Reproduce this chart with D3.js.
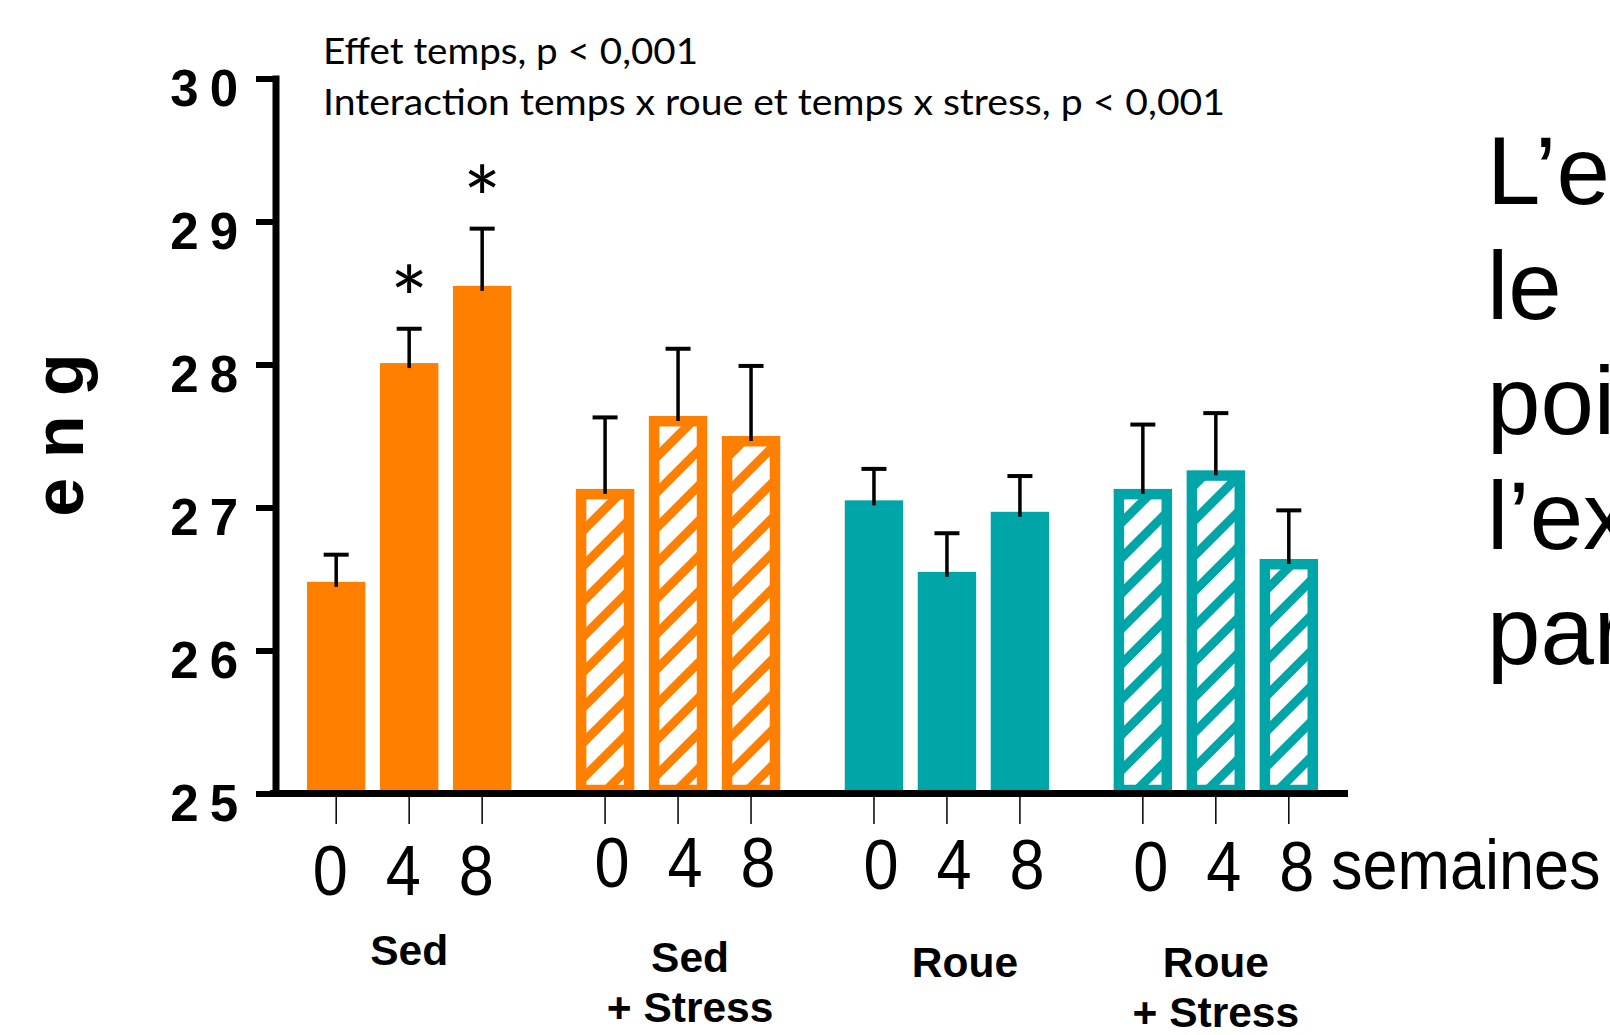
<!DOCTYPE html>
<html>
<head>
<meta charset="utf-8">
<script src="https://cdnjs.cloudflare.com/ajax/libs/d3/7.8.5/d3.min.js"></script>
<title>Poids en g</title>
<style>
  body{ margin:0; background:#fff; overflow:hidden; }
  svg{ display:block; }
  text{ font-family:"Liberation Sans", Arial, sans-serif; fill:#000; }
</style>
</head>
<body>
<script>
// data
var groups   = ["Sed", "Sed + Stress", "Roue", "Roue + Stress"],
    groupLbl = [["Sed"], ["Sed", "+ Stress"], ["Roue"], ["Roue", "+ Stress"]],
    weeks    = ["0", "4", "8"],
    hatched  = [false, true, false, true],
    colors   = ["#ff8000", "#ff8000", "#00a5a8", "#00a5a8"];

var means = [
  [26.48, 28.01, 28.55],
  [27.13, 27.64, 27.50],
  [27.05, 26.55, 26.97],
  [27.13, 27.26, 26.64]
];
var sems = [
  [0.19, 0.24, 0.40],
  [0.50, 0.47, 0.49],
  [0.22, 0.27, 0.25],
  [0.45, 0.40, 0.34]
];
var stars = [
  ["", "*", "*"],
  ["", "", ""],
  ["", "", ""],
  ["", "", ""]
];
var yTicks  = [25, 26, 27, 28, 29, 30],
    unit    = "semaines",
    yLabel  = "e n g",
    notes   = ["Effet temps, p < 0,001", "Interaction temps x roue et temps x stress, p < 0,001"],
    side    = ["L\u2019e", "le", "poi", "l\u2019ex", "par"];

// layout
var W = 1610, H = 1035,
    axisX = 276, border = 10.5,
    lblShift = [-6, 7, 7, 8],        // small per-group shift of the week numbers
    lblBase  = [895, 887, 889, 891],
    grpShift = [0, 12, 18, 0],
    grpBase  = [965, 972, 977, 977];

var rows = [];
groups.forEach(function(g, i){
  weeks.forEach(function(w, j){
    rows.push({g: g, gi: i, w: w, mean: means[i][j], sem: sems[i][j], star: stars[i][j]});
  });
});

var svg = d3.select("body").append("svg")
    .attr("width", W)
    .attr("height", H);

var y  = d3.scaleLinear().domain([25, 30]).range([793.5, 78.5]),
    x0 = d3.scaleBand().domain(groups).range([307, 1318]).paddingInner(0.24),
    x1 = d3.scaleBand().domain(weeks).range([0, x0.bandwidth()]).paddingInner(0.2);

function cx(d){ return x0(d.g) + x1(d.w) + x1.bandwidth()/2; }

// hatch patterns
var defs = svg.append("defs");
["#ff8000", "#00a5a8"].forEach(function(c, i){
  var p = defs.append("pattern")
      .attr("id", "hatch" + i)
      .attr("patternUnits", "userSpaceOnUse")
      .attr("width", 25).attr("height", 25)
      .attr("patternTransform", "rotate(45)");
  p.append("rect").attr("width", 25).attr("height", 25).attr("fill", "#fff");
  p.append("rect").attr("x", 8).attr("width", 9).attr("height", 25).attr("fill", c);
});

// bars
svg.append("g").selectAll("rect")
  .data(rows)
  .enter().append("rect")
    .attr("x", function(d){ return x0(d.g) + x1(d.w) + (hatched[d.gi] ? border/2 : 0); })
    .attr("y", function(d){ return y(d.mean) + (hatched[d.gi] ? border/2 : 0); })
    .attr("width", function(d){ return x1.bandwidth() - (hatched[d.gi] ? border : 0); })
    .attr("height", function(d){ return y(25) - 3.5 - y(d.mean) - (hatched[d.gi] ? border/2 : 0); })
    .attr("fill", function(d){ return hatched[d.gi] ? "url(#hatch" + (d.gi == 1 ? 0 : 1) + ")" : colors[d.gi]; })
    .attr("stroke", function(d){ return hatched[d.gi] ? colors[d.gi] : "none"; })
    .attr("stroke-width", border);

// error bars
var eb = svg.append("g").selectAll("g")
  .data(rows)
  .enter().append("g");
eb.append("line")
    .attr("x1", cx).attr("x2", cx)
    .attr("y1", function(d){ return y(d.mean) + 5; })
    .attr("y2", function(d){ return y(d.mean + d.sem); })
    .attr("stroke", "#000").attr("stroke-width", 3.5);
eb.append("line")
    .attr("x1", function(d){ return cx(d) - 12.5; })
    .attr("x2", function(d){ return cx(d) + 12.5; })
    .attr("y1", function(d){ return y(d.mean + d.sem); })
    .attr("y2", function(d){ return y(d.mean + d.sem); })
    .attr("stroke", "#000").attr("stroke-width", 4);

// stars
svg.append("g").selectAll("text")
  .data(rows.filter(function(d){ return d.star; }))
  .enter().append("text")
    .attr("x", cx)
    .attr("y", function(d){ return y(d.mean + d.sem) - 50 + 53; })
    .attr("text-anchor", "middle")
    .style("font-family", "Lato, sans-serif")
    .style("font-size", "90px")
    .text(function(d){ return d.star; });

// y axis
var ya = svg.append("g")
    .attr("transform", "translate(" + axisX + ",0)")
    .call(d3.axisLeft(y).tickValues(yTicks).tickFormat(d3.format("d")).tickSize(20).tickSizeOuter(0));
ya.select(".domain").attr("stroke-width", 7).attr("d", "M0," + (y(30) - 3) + "V" + (y(25) + 3));
ya.selectAll(".tick line").attr("stroke-width", 6);
ya.selectAll(".tick text")
    .attr("x", -27)
    .attr("dy", "0.52em")
    .style("font-family", "'Liberation Sans', Arial, sans-serif")
    .style("font-size", "51px")
    .style("font-weight", "bold")
    .style("letter-spacing", "11px");

// x axis base line
svg.append("line")
    .attr("x1", 270).attr("x2", 1348)
    .attr("y1", y(25)).attr("y2", y(25))
    .attr("stroke", "#000").attr("stroke-width", 7);

// x ticks per group
groups.forEach(function(g, i){
  var xa = svg.append("g")
      .attr("transform", "translate(" + x0(g) + "," + (y(25) + 3.5) + ")")
      .call(d3.axisBottom(x1).tickSize(27).tickSizeOuter(0).tickFormat(""));
  xa.select(".domain").remove();
  xa.selectAll(".tick line").attr("stroke-width", 1.5);

  svg.append("g").selectAll("text")
    .data(weeks)
    .enter().append("text")
      .attr("transform", function(w){
        return "translate(" + (x0(g) + x1(w) + x1.bandwidth()/2 + lblShift[i]) + "," + lblBase[i] + ") scale(0.9,1)";
      })
      .attr("text-anchor", "middle")
      .style("font-size", "70px")
      .text(function(w){ return w; });

  svg.append("text")
      .attr("text-anchor", "middle")
      .style("font-size", "42.5px")
      .style("font-weight", "bold")
    .selectAll("tspan")
    .data(groupLbl[i])
    .enter().append("tspan")
      .attr("x", x0(g) + x0.bandwidth()/2 + grpShift[i])
      .attr("y", function(t, k){ return grpBase[i] + k*50; })
      .text(function(t){ return t; });
});

svg.append("text")
    .attr("transform", "translate(1331," + lblBase[2] + ") scale(0.9,1)")
    .style("font-size", "70px")
    .text(unit);

// y label
svg.append("text")
    .attr("transform", "translate(83,435) rotate(-90)")
    .attr("text-anchor", "middle")
    .style("font-size", "70px")
    .style("font-weight", "bold")
    .text(yLabel);

// notes
var nl = [375, 902];
svg.append("g").selectAll("text")
  .data(notes)
  .enter().append("text")
    .attr("x", 323)
    .attr("y", function(d, i){ return 64 + i*51; })
    .attr("textLength", function(d, i){ return nl[i]; })
    .attr("lengthAdjust", "spacingAndGlyphs")
    .style("font-family", "Lato, sans-serif")
    .style("font-size", "36px")
    .text(function(d){ return d; });

// cut-off side text
svg.append("g").selectAll("text")
  .data(side)
  .enter().append("text")
    .attr("x", 1487)
    .attr("y", function(d, i){ return 204 + i*115; })
    .style("font-size", "96px")
    .text(function(d){ return d; });
</script>
</body>
</html>
